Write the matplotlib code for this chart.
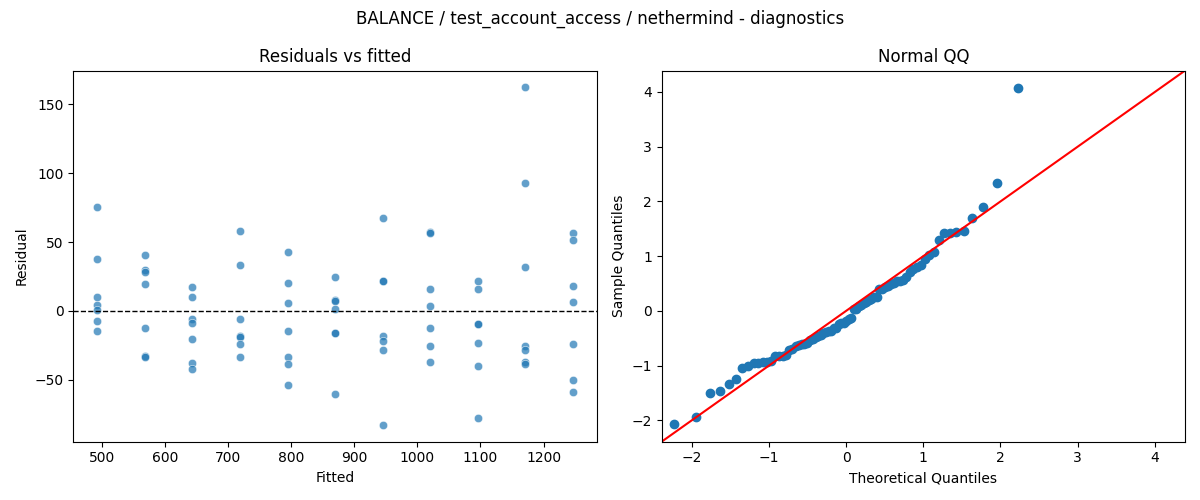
import numpy as np
import matplotlib
matplotlib.use("Agg")
import matplotlib.pyplot as plt
import seaborn as sns
from statistics import NormalDist

# Fitted value of each group (x positions of the vertical strips)
fitted_levels = [492.4, 568.0, 643.2, 718.8, 794.8, 870.0, 945.6, 1020.4, 1096.0, 1171.2, 1246.8]

# Residuals read per fitted group
resid_groups = [
    [75.4, 37.7, 10.1, 4.1, 1.0, -7.2, -14.5],
    [40.6, 30.0, 28.3, 19.6, -12.3, -32.6, -33.1],
    [17.4, 10.1, -5.6, -8.7, -20.3, -37.4, -42.0],
    [58.0, 33.3, -5.8, -18.1, -18.8, -23.9, -33.3],
    [42.8, 20.3, 5.8, -14.5, -33.3, -38.4, -53.6],
    [24.6, 8.2, 7.5, 1.4, -15.7, -15.9, -60.1],
    [67.4, 22.0, 21.7, -17.9, -21.5, -28.3, -82.6],
    [57.0, 56.5, 15.9, 3.6, -12.3, -25.4, -37.0],
    [21.7, 15.9, -9.2, -9.7, -23.2, -40.1, -77.5],
    [162.1, 92.8, 31.9, -25.1, -28.0, -36.7, -38.4],
    [56.5, 51.2, 18.1, 6.5, -23.9, -50.0, -58.7],
]

title = "BALANCE / test_account_access / nethermind - diagnostics"

fitted = np.concatenate([[f] * len(g) for f, g in zip(fitted_levels, resid_groups)])
resid = np.concatenate([np.array(g, dtype=float) for g in resid_groups])

# Normal QQ of standardized residuals
std_resid = (resid - resid.mean()) / resid.std()
sample_q = np.sort(std_resid)
n = len(sample_q)
nd = NormalDist()
theo_q = np.array([nd.inv_cdf(i / (n + 1)) for i in range(1, n + 1)])

fig, axes = plt.subplots(1, 2, figsize=(12, 5), dpi=100)

ax = axes[0]
sns.scatterplot(x=fitted, y=resid, ax=ax, alpha=0.7)
ax.axhline(0, color="black", linestyle="--", linewidth=1)
ax.set_title("Residuals vs fitted")
ax.set_xlabel("Fitted")
ax.set_ylabel("Residual")

ax = axes[1]
ax.plot(theo_q, sample_q, linestyle="none", marker="o", markerfacecolor="C0",
        markeredgecolor="C0", markersize=6)
lims = (-2.39, 4.39)
ax.plot(lims, lims, color="red", linewidth=1.5)
ax.set_xlim(lims)
ax.set_ylim(lims)
ax.set_title("Normal QQ")
ax.set_xlabel("Theoretical Quantiles")
ax.set_ylabel("Sample Quantiles")

fig.suptitle(title)
fig.tight_layout()
fig.savefig("out.png", dpi=100)
